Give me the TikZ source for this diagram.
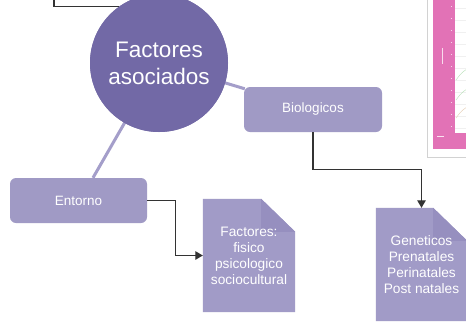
\documentclass[tikz,border=0pt]{standalone}
\usepackage{fontspec}
\setmainfont{Liberation Sans}
\usetikzlibrary{arrows.meta,backgrounds,calc}
\definecolor{circ}{HTML}{7269A6}
\definecolor{boxc}{HTML}{A09AC5}
\definecolor{docc}{HTML}{A19BC7}
\definecolor{foldc}{HTML}{968FBF}
\definecolor{linkc}{HTML}{A49ECA}
\definecolor{arr}{HTML}{333333}
\definecolor{pinkc}{HTML}{E272B6}
\begin{document}
\begin{tikzpicture}[x=1pt,y=-1pt,
 hub/.style={circle,fill=circ,minimum size=138pt,inner sep=0pt,text=white,align=center,font=\fontsize{22.5}{27}\selectfont},
 catbox/.style={rectangle,rounded corners=6pt,fill=boxc,text=white,font=\fontsize{13.5}{16}\selectfont,minimum height=45pt,inner sep=0pt},
 docnode/.style={rectangle,minimum width=92pt,minimum height=113pt,inner sep=0pt,text=white,align=center,font=\fontsize{13.7}{16}\selectfont},
 link/.style={linkc,line width=3pt},
 arrowc/.style={arr,line width=1.2pt,-{Triangle[length=7.5pt,width=8.5pt]}},
 plain/.style={arr,line width=1.2pt}
]
\useasboundingbox (0,0) rectangle (466,327);

% nodes
\node[hub] (fa) at (159,63) {Factores\\asociados};
\node[catbox,minimum width=138pt] (bio) at (313,109.5) {Biologicos};
\node[catbox,minimum width=137pt] (ent) at (78.5,200.5) {Entorno};
\node[docnode] (d1) at (249,255.5) {Factores:\\fisico\\psicologico\\sociocultural};
\node[docnode,minimum width=91pt] (d2) at (421.5,264.5) {Geneticos\\Prenatales\\Perinatales\\Post natales};
\coordinate (topin) at (54,-2);

\begin{scope}[on background layer]
  \fill[white] (0,0) rectangle (466,327);
  % picture at top right
  \fill[white,draw=gray!35,line width=0.8pt] (427,-5) rectangle (472,157);
  \fill[pinkc] (433,-5) rectangle (472,149);
  \fill[white] (455,-5) rectangle (472,133);
  \foreach \yy in {8,20,32,44,56,68,80,92,104,116,128}
    \draw[gray!12,line width=0.4pt] (455,\yy) -- (472,\yy);
  \foreach \yy in {6,18,30,42,54,66,78,90,102,114,126}
    \fill[white!70!pinkc] (450.5,\yy) rectangle (452,\yy+1.2);
  \draw[white!75!pinkc,line width=1pt] (442,48) -- (442,64);
  \draw[white!80!pinkc,line width=1pt] (437,136) -- (444,136);
  \draw[green!40!gray!40,line width=0.4pt] (456,80) .. controls (462,72) .. (472,66);
  \draw[green!40!gray!40,line width=0.4pt] (456,100) .. controls (462,92) .. (472,86);
  \draw[orange!50!gray!40,line width=0.4pt] (456,118) .. controls (462,110) .. (472,104);
  % documents
  \foreach \d in {d1,d2}{
    \fill[docc] (\d.south west) -- (\d.north west) -- ([xshift=-34pt]\d.north east)
      -- ([yshift=-33pt]\d.north east) -- (\d.south east) -- cycle;
    \fill[foldc] ([xshift=-34pt]\d.north east) -- ([xshift=-34pt,yshift=-33pt]\d.north east)
      -- ([yshift=-33pt]\d.north east) -- cycle;
  }
  \draw[link] (fa.center) -- ([xshift=1pt,yshift=-2pt]bio.north west);
  \draw[link] (fa.center) -- ([xshift=14.5pt]ent.north);
  \fill[circ] (fa.center) circle (69pt);
\end{scope}

% connectors
\draw[plain] (topin) |- (fa.125);
\draw[arrowc] (bio.south) -- ++(0,37) -| (d2.north);
\draw[arrowc] (ent.east) -- ++(28,0) |- (d1.west);
\end{tikzpicture}
\end{document}
